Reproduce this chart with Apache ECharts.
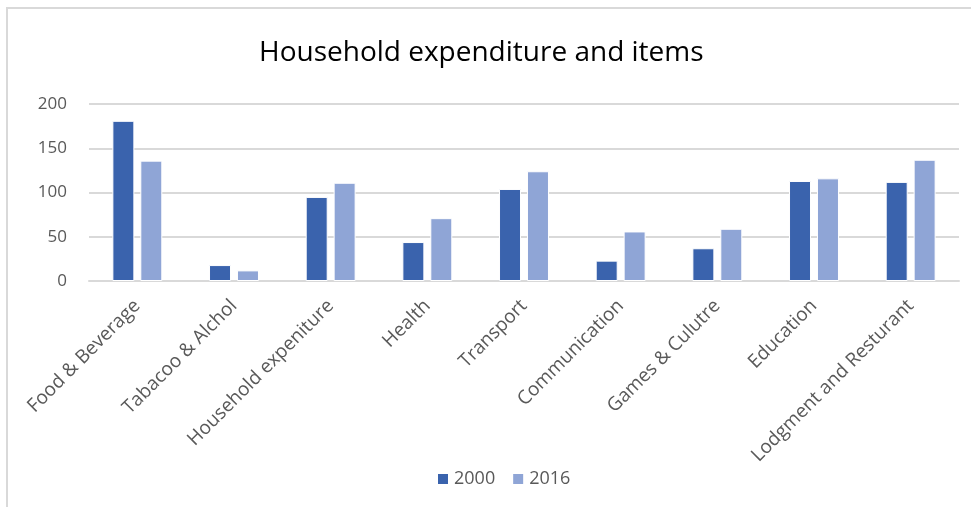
<!DOCTYPE html>
<html>
<head>
<meta charset="utf-8">
<script src="https://cdn.jsdelivr.net/npm/echarts@6/dist/echarts.min.js"></script>
<style>
  html, body { margin: 0; padding: 0; background: #fff; }
  #chart { width: 971px; height: 507px; }
</style>
</head>
<body>
<div id="chart"></div>
<script>
const categories = [
  'Food & Beverage', 'Tabacoo & Alchol', 'Household expeniture', 'Health',
  'Transport', 'Communication', 'Games & Culutre', 'Education', 'Lodgment and Resturant'
];
const values2000 = [181, 18, 95, 44, 104, 23, 37, 113, 112];
const values2016 = [136, 12, 111, 71, 124, 56, 59, 116, 137];
const yTicks = { min: 0, max: 200, interval: 50 };

const font = '"Open Sans", "Noto Sans", sans-serif';
const chart = echarts.init(document.getElementById('chart'));

chart.setOption({
  animation: false,
  textStyle: { fontFamily: font },
  title: {
    text: 'Household expenditure and items',
    left: 254,
    top: 34,
    textStyle: { fontSize: 28, fontWeight: 'normal', color: '#000', fontFamily: font }
  },
  legend: {
    data: ['2000', '2016'],
    bottom: 14,
    left: 431,
    icon: 'rect',
    itemWidth: 12,
    itemHeight: 12,
    itemGap: 16,
    textStyle: { fontSize: 18, color: '#595959', fontFamily: font }
  },
  grid: { left: 89, right: 12, top: 104, bottom: 226 },
  xAxis: {
    type: 'category',
    data: categories,
    axisLine: { lineStyle: { color: '#d9d9d9', width: 2 } },
    axisTick: { show: false },
    axisLabel: { rotate: 45, interval: 0, fontSize: 19, color: '#595959', margin: 22, fontFamily: font }
  },
  yAxis: {
    type: 'value',
    min: yTicks.min,
    max: yTicks.max,
    interval: yTicks.interval,
    axisLine: { show: false },
    axisTick: { show: false },
    splitLine: { lineStyle: { color: '#d9d9d9', width: 2 } },
    axisLabel: { fontSize: 17, color: '#595959', margin: 22, fontFamily: font }
  },
  series: [
    {
      name: '2000', type: 'bar', data: values2000,
      barWidth: 22, barGap: '27%',
      itemStyle: { color: '#3a63ad', borderColor: '#fff', borderWidth: 1 }
    },
    {
      name: '2016', type: 'bar', data: values2016,
      barWidth: 22,
      itemStyle: { color: '#8fa5d6', borderColor: '#fff', borderWidth: 1 }
    }
  ],
  graphic: [{
    type: 'rect',
    shape: { x: 7, y: 8, width: 1000, height: 600 },
    style: { fill: 'none', stroke: '#d9d9d9', lineWidth: 2 },
    silent: true
  }]
});
</script>
</body>
</html>
